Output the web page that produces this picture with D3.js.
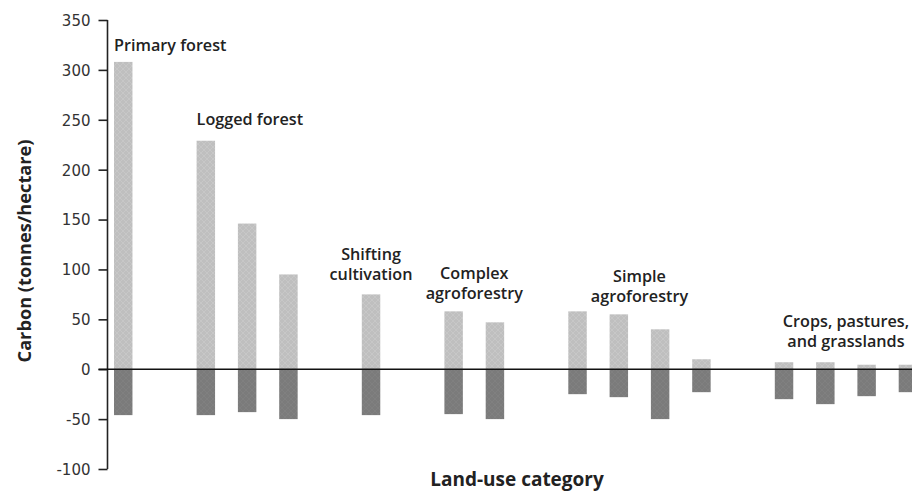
<!DOCTYPE html>
<html>
<head>
<meta charset="utf-8">
<script src="https://cdn.jsdelivr.net/npm/d3@7/dist/d3.min.js"></script>
<style>
  html, body { margin: 0; padding: 0; background: #fff; }
  svg { display: block; }
</style>
</head>
<body>
<svg id="chart" width="912" height="493"></svg>
<script>
// ---------------- DATA ----------------
const groups = ["Primary forest", "Logged forest", "Shifting cultivation",
  "Complex agroforestry", "Simple agroforestry", "Crops, pastures, and grasslands"];
const groupLines = [["Primary forest"], ["Logged forest"], ["Shifting", "cultivation"],
  ["Complex", "agroforestry"], ["Simple", "agroforestry"], ["Crops, pastures,", "and grasslands"]];
const barIds = ["PF1", "LF1", "LF2", "LF3", "SC1", "CA1", "CA2",
  "SA1", "SA2", "SA3", "SA4", "CP1", "CP2", "CP3", "CP4"];
const barGroup = [0, 1, 1, 1, 2, 3, 3, 4, 4, 4, 4, 5, 5, 5, 5];
const aboveValues = [308, 229, 146, 95, 75, 58, 47, 58, 55, 40, 10, 7, 7, 4.5, 4.5];
const belowValues = [-46, -46, -43, -50, -46, -45, -50, -25, -28, -50, -23, -30, -35, -27, -23];
const yTicks = [350, 300, 250, 200, 150, 100, 50, 0, -50, -100];
const yLabel = "Carbon (tonnes/hectare)";
const xLabel = "Land-use category";

// ---------------- LAYOUT ----------------
const svg = d3.select("#chart");
const axisX = 107.5;

// slots: bars with one empty slot between groups
const slots = [];
barIds.forEach((id, i) => {
  if (i > 0 && barGroup[i] !== barGroup[i - 1]) slots.push("gap" + i);
  slots.push(id);
});

const pInner = 0.553;
const step = 41.3;
const r0 = 114;
const x = d3.scaleBand()
  .domain(slots)
  .range([r0, r0 + step * (slots.length - pInner)])
  .paddingInner(pInner)
  .paddingOuter(0);

const y = d3.scaleLinear().domain([-100, 350]).range([469, 20]);

// pattern for light bars (subtle cross-hatch)
const defs = svg.append("defs");
const pat = defs.append("pattern").attr("id", "hatch")
  .attr("width", 6).attr("height", 6).attr("patternUnits", "userSpaceOnUse");
pat.append("rect").attr("width", 6).attr("height", 6).attr("fill", "#bfbfbf");
pat.append("path").attr("d", "M0,0L6,6M6,0L0,6")
  .attr("stroke", "#c9c9c9").attr("stroke-width", 0.8);
const pat2 = defs.append("pattern").attr("id", "hatch2")
  .attr("width", 6).attr("height", 6).attr("patternUnits", "userSpaceOnUse");
pat2.append("rect").attr("width", 6).attr("height", 6).attr("fill", "#7b7b7b");
pat2.append("path").attr("d", "M0,0L6,6M6,0L0,6")
  .attr("stroke", "#828282").attr("stroke-width", 0.8);

// bars above
svg.append("g").selectAll("rect").data(barIds).join("rect")
  .attr("x", d => x(d))
  .attr("width", x.bandwidth())
  .attr("y", (d, i) => y(aboveValues[i]))
  .attr("height", (d, i) => y(0) - y(aboveValues[i]))
  .attr("fill", "url(#hatch)");

// bars below
svg.append("g").selectAll("rect").data(barIds).join("rect")
  .attr("x", d => x(d))
  .attr("width", x.bandwidth())
  .attr("y", y(0))
  .attr("height", (d, i) => y(belowValues[i]) - y(0))
  .attr("fill", "url(#hatch2)");

// y axis
const yAxis = d3.axisLeft(y).tickValues(yTicks).tickSize(9).tickPadding(8)
  .tickFormat(d => d3.format("d")(d));
const gy = svg.append("g").attr("transform", `translate(${axisX},0)`).call(yAxis);
gy.select(".domain").attr("d", `M0,${y(350)}V${y(-100)}`).attr("stroke", "#222").attr("stroke-width", 1.6);
gy.selectAll(".tick line").attr("stroke", "#222").attr("stroke-width", 1.6);
gy.selectAll(".tick text")
  .attr("font-family", "DejaVu Sans, sans-serif")
  .attr("font-size", 15)
  .attr("fill", "#333")
  .attr("dy", "0.36em")
  .text(d => d < 0 ? "-" + Math.abs(d) : d);

// zero line
svg.append("line")
  .attr("x1", axisX - 9).attr("x2", 912)
  .attr("y1", y(0)).attr("y2", y(0))
  .attr("stroke", "#111").attr("stroke-width", 1.6);

// group labels
const labelOffset = [11, 16, 14, 12, 9, 15];
const labelAnchor = ["start", "start", "middle", "middle", "middle", "middle"];
const labelG = svg.append("g")
  .attr("font-family", "Open Sans, sans-serif")
  .attr("font-weight", 600)
  .attr("font-size", 16.2)
  .attr("fill", "#222");
groups.forEach((g, gi) => {
  const ids = barIds.filter((d, i) => barGroup[i] === gi);
  const vals = aboveValues.filter((d, i) => barGroup[i] === gi);
  const x0 = x(ids[0]);
  const x1 = x(ids[ids.length - 1]) + x.bandwidth();
  const cx = labelAnchor[gi] === "start" ? x0 : (x0 + x1) / 2;
  const lines = groupLines[gi];
  const baseLast = y(d3.max(vals)) - labelOffset[gi];
  lines.forEach((ln, li) => {
    labelG.append("text")
      .attr("x", cx)
      .attr("y", baseLast - (lines.length - 1 - li) * 20)
      .attr("text-anchor", labelAnchor[gi])
      .text(ln);
  });
});

// axis titles
svg.append("text")
  .attr("transform", `translate(31,251) rotate(-90)`)
  .attr("text-anchor", "middle")
  .attr("font-family", "Open Sans, sans-serif")
  .attr("font-weight", 700)
  .attr("font-size", 18.2)
  .attr("fill", "#222")
  .text(yLabel);

svg.append("text")
  .attr("x", 517)
  .attr("y", 486)
  .attr("text-anchor", "middle")
  .attr("font-family", "Open Sans, sans-serif")
  .attr("font-weight", 700)
  .attr("font-size", 19)
  .attr("fill", "#222")
  .text(xLabel);
</script>
</body>
</html>
